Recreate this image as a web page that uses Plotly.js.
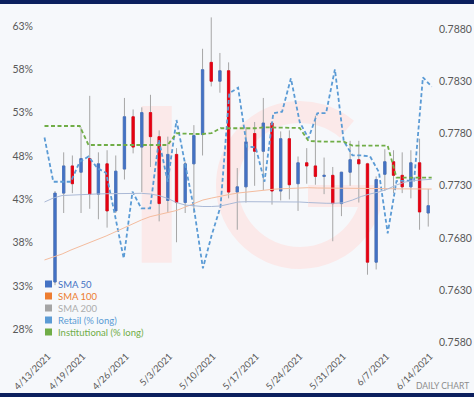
<!DOCTYPE html>
<html>
<head>
<meta charset="utf-8">
<script src="https://cdn.plot.ly/plotly-3.0.1.min.js"></script>
<style>
html,body{margin:0;padding:0;background:#f6f8fb;}
#chart{width:474px;height:397px;}
</style>
</head>
<body>
<div id="chart"></div>
<script>
// ---------------- DATA ----------------
const dates = ['4/13/2021','4/14/2021','4/15/2021','4/16/2021',
  '4/19/2021','4/20/2021','4/21/2021','4/22/2021','4/23/2021',
  '4/26/2021','4/27/2021','4/28/2021','4/29/2021','4/30/2021',
  '5/3/2021','5/4/2021','5/5/2021','5/6/2021','5/7/2021',
  '5/10/2021','5/11/2021','5/12/2021','5/13/2021','5/14/2021',
  '5/17/2021','5/18/2021','5/19/2021','5/20/2021','5/21/2021',
  '5/24/2021','5/25/2021','5/26/2021','5/27/2021','5/28/2021',
  '5/31/2021','6/1/2021','6/2/2021','6/3/2021','6/4/2021',
  '6/7/2021','6/8/2021','6/9/2021','6/10/2021','6/11/2021'];

const openP  = [0.7638,0.7723,0.7749,0.7743,0.7756,0.7722,0.7751,0.7706,0.7746,0.7796,
                0.7767,0.7800,0.7777,0.7716,0.7760,0.7714,0.7751,0.7779,0.7848,0.7830,
                0.7840,0.7724,0.7729,0.7780,0.7763,0.7790,0.7725,0.7775,0.7732,0.7752,
                0.7749,0.7739,0.7740,0.7713,0.7743,0.7755,0.7751,0.7657,0.7741,0.7753,
                0.7740,0.7729,0.7752,0.7704];
const highP  = [0.7725,0.7762,0.7759,0.7786,0.7816,0.7762,0.7764,0.7759,0.7814,0.7803,
                0.7805,0.7817,0.7783,0.7777,0.7766,0.7753,0.7788,0.7861,0.7891,0.7857,
                0.7848,0.7747,0.7786,0.7791,0.7814,0.7791,0.7782,0.7783,0.7758,0.7766,
                0.7797,0.7757,0.7748,0.7743,0.7773,0.7773,0.7752,0.7739,0.7765,0.7764,
                0.7762,0.7764,0.7775,0.7727];
const lowP   = [0.7635,0.7704,0.7723,0.7704,0.7708,0.7698,0.7690,0.7704,0.7736,0.7761,
                0.7724,0.7748,0.7696,0.7705,0.7676,0.7704,0.7704,0.7759,0.7825,0.7819,
                0.7718,0.7688,0.7714,0.7730,0.7726,0.7712,0.7716,0.7717,0.7706,0.7732,
                0.7731,0.7722,0.7677,0.7701,0.7730,0.7714,0.7645,0.7650,0.7725,0.7723,
                0.7723,0.7718,0.7688,0.7691];
const closeP = [0.7723,0.7749,0.7732,0.7756,0.7722,0.7751,0.7706,0.7744,0.7796,0.7767,
                0.7800,0.7777,0.7713,0.7760,0.7714,0.7751,0.7778,0.7841,0.7830,0.7840,
                0.7724,0.7729,0.7772,0.7763,0.7790,0.7725,0.7775,0.7731,0.7752,0.7749,
                0.7739,0.7740,0.7713,0.7743,0.7755,0.7751,0.7657,0.7736,0.7753,0.7740,
                0.7729,0.7752,0.7705,0.7711];

// sentiment / moving-average series (45 points each)
const retailLong = [50.13,45.03,45.03,45.03,47.34,47.94,46.61,46.04,41.19,36.19,
                    43.88,41.96,41.96,49.85,45.03,52.15,46.96,41.85,35.04,38.88,
                    42.15,55.23,55.88,49.07,49.00,45.03,52.93,53.11,56.96,51.92,
                    50.04,52.93,52.96,58.00,49.73,48.06,48.06,47.94,46.15,39.08,
                    45.11,45.17,45.17,57.08,56.00];
const instLong   = [51.46,51.46,51.46,51.46,51.46,49.27,49.27,49.27,49.27,49.27,
                    49.27,49.27,49.27,49.27,49.27,50.62,50.54,50.54,50.54,50.65,
                    51.20,51.20,51.20,51.20,51.20,51.31,51.31,51.31,51.31,51.23,
                    49.73,49.65,49.65,49.65,49.65,49.19,49.19,49.19,49.19,49.19,
                    45.50,45.50,45.50,45.50,45.50];
const sma100 = [0.76591,0.76619,0.76648,0.76686,0.76720,0.76753,0.76782,0.76820,0.76858,0.76897,
                0.76935,0.76973,0.77005,0.77026,0.77045,0.77064,0.77097,0.77131,0.77164,0.77183,
                0.77202,0.77217,0.77231,0.77241,0.77250,0.77260,0.77267,0.77272,0.77277,0.77281,
                0.77282,0.77279,0.77279,0.77276,0.77276,0.77276,0.77276,0.77276,0.77275,0.77273,
                0.77271,0.77269,0.77269,0.77269,0.77269];
const sma200 = [0.77145,0.77183,0.77207,0.77212,0.77217,0.77222,0.77222,0.77224,0.77226,0.77228,
                0.77228,0.77228,0.77222,0.77207,0.77179,0.77140,0.77116,0.77107,0.77102,0.77102,
                0.77107,0.77126,0.77145,0.77148,0.77148,0.77148,0.77148,0.77148,0.77148,0.77145,
                0.77140,0.77133,0.77133,0.77133,0.77138,0.77164,0.77198,0.77222,0.77241,0.77269,
                0.77308,0.77336,0.77351,0.77357,0.77362];

const tickLabels = ['4/13/2021','4/19/2021','4/26/2021','5/3/2021','5/10/2021',
                    '5/17/2021','5/24/2021','5/31/2021','6/7/2021','6/14/2021'];
const pctTicks   = [28,33,38,43,48,53,58,63];
const priceTicks = [0.7580,0.7630,0.7680,0.7730,0.7780,0.7830,0.7880];

const legendNames  = ['SMA 50','SMA 100','SMA 200','Retail (% long)','Institutional (% long)'];

// ---------------- STYLE ----------------
const FONT = 'Lato, "Open Sans", sans-serif';
const C_UP = '#4472C4', C_DN = '#E60012', C_WICK = '#A6A6A6';
const legendMarker = ['#4472C4','#ED7D31','#A5A5A5','#5B9BD5','#70AD47'];
const legendText   = ['#4472C4','#ED7D31','#ADADAD','#5B9BD5','#70AD47'];

const W = 474, H = 397;
const M = {l:34, r:36, t:12, b:49};
const PW = W - M.l - M.r, PH = H - M.t - M.b;
const px = x => (x - M.l) / PW;          // pixel -> paper
const py = y => (H - M.b - y) / PH;

// trading-day index of a M/D/YYYY label, counted from the first date
function tradingIndex(label){
  const p = s => { const a = s.split('/').map(Number); return new Date(a[2], a[0]-1, a[1]); };
  const d0 = p(dates[0]), d1 = p(label);
  let n = 0; const d = new Date(d0);
  while (d < d1){ d.setDate(d.getDate()+1); const w = d.getDay(); if (w !== 0 && w !== 6) n++; }
  return n;
}
const lineIdx = retailLong.map((_, i) => i);
const candleIdx = dates.map((_, i) => i);
const bodyHi = openP.map((o, i) => Math.max(o, closeP[i]));
const bodyLo = openP.map((o, i) => Math.min(o, closeP[i]));

const traces = [
  { type:'candlestick', x:candleIdx, open:openP, high:highP, low:lowP, close:closeP,
    xaxis:'x', yaxis:'y2', hoverinfo:'skip',
    increasing:{line:{color:C_WICK, width:1}, fillcolor:C_WICK},
    decreasing:{line:{color:C_WICK, width:1}, fillcolor:C_WICK} },
  { type:'candlestick', x:candleIdx, open:openP, high:bodyHi, low:bodyLo, close:closeP,
    xaxis:'x', yaxis:'y2', hoverinfo:'skip',
    increasing:{line:{color:C_UP, width:0.8}, fillcolor:C_UP},
    decreasing:{line:{color:C_DN, width:0.8}, fillcolor:C_DN} },
  { type:'scatter', mode:'lines', x:lineIdx, y:retailLong, xaxis:'x2', yaxis:'y',
    name:legendNames[3], line:{color:'#5B9BD5', width:1.8, dash:'4px,2.5px'}, hoverinfo:'skip' },
  { type:'scatter', mode:'lines', x:lineIdx, y:instLong, xaxis:'x2', yaxis:'y',
    name:legendNames[4], line:{color:'#70AD47', width:1.8, dash:'4px,2.5px'}, hoverinfo:'skip' },
  { type:'scatter', mode:'lines', x:lineIdx, y:sma100, xaxis:'x2', yaxis:'y2',
    name:legendNames[1], line:{color:'#F4BC9E', width:1}, hoverinfo:'skip' },
  { type:'scatter', mode:'lines', x:lineIdx, y:sma200, xaxis:'x2', yaxis:'y2',
    name:legendNames[2], line:{color:'#AAB9D6', width:1}, hoverinfo:'skip' }
];

// axis ranges chosen so the scales sit where the reference puts them
const xr  = [(M.l - 55)/8.68, (W - M.r - 55)/8.68];
const x2r = [(M.l - 44.5)/8.8, (W - M.r - 44.5)/8.8];
const pctAt = y => 63 - (y - 26) / 8.666;
const priceAt = y => 0.758 + (342.7 - y) * 0.005 / 52.3;

const axisFont = {family:FONT, size:10.5, color:'#595959'};
const annotations = legendNames.map((n, i) => ({
  xref:'paper', yref:'paper', x:px(56), y:py(284 + 12*i), xanchor:'left', yanchor:'middle',
  text:n, showarrow:false, font:{family:FONT, size:9.5, color:legendText[i]}
}));
annotations.push({xref:'paper', yref:'paper', x:px(471), y:py(386), xanchor:'right', yanchor:'middle',
  text:'DAILY CHART', showarrow:false, font:{family:FONT, size:8.5, color:'#8C8C8C'}});

const shapes = legendNames.map((n, i) => ({
  type:'rect', xref:'paper', yref:'paper', x0:px(45), x1:px(52),
  y0:py(284 + 12*i + 3.5), y1:py(284 + 12*i - 3.5), line:{width:0}, fillcolor:legendMarker[i]
}));
shapes.push({type:'rect', xref:'paper', yref:'paper', x0:px(0), x1:px(W), y0:py(4), y1:py(-1),
  line:{width:0}, fillcolor:'#0B1F5E', layer:'above'});
shapes.push({type:'rect', xref:'paper', yref:'paper', x0:px(0), x1:px(W), y0:py(H+1), y1:py(393),
  line:{width:0}, fillcolor:'#0B1F5E', layer:'above'});

// faint IG watermark
const WM = '#FBE9E9';
const svg = '<svg xmlns="http://www.w3.org/2000/svg" width="250" height="190" viewBox="0 0 250 190">' +
  '<g fill="' + WM + '" stroke="none">' +
  '<rect x="11.7" y="16" width="30" height="156.7"/>' +
  '<rect x="178" y="95" width="74" height="22"/></g>' +
  '<path d="M 216.9 39.1 A 73 73 0 1 0 240.5 113.9" fill="none" stroke="' + WM + '" stroke-width="22"/>' +
  '</svg>';
const images = [{source:'data:image/svg+xml;charset=utf-8,' + encodeURIComponent(svg),
  xref:'paper', yref:'paper', x:px(130), y:py(90), sizex:250/PW, sizey:190/PH,
  xanchor:'left', yanchor:'top', sizing:'stretch', layer:'below', opacity:1}];

const layout = {
  width:W, height:H, margin:{l:M.l, r:M.r, t:M.t, b:M.b, pad:0},
  paper_bgcolor:'#F6F8FB', plot_bgcolor:'rgba(0,0,0,0)',
  showlegend:false, boxgap:0.62, boxmode:'overlay',
  font:{family:FONT},
  xaxis:{range:xr, tickmode:'array',
         tickvals:tickLabels.map(t => tradingIndex(t) - 0.8), ticktext:tickLabels,
         tickangle:-45, tickfont:{family:FONT, size:9.5, color:'#595959'},
         showgrid:false, zeroline:false, showline:false, ticks:'',
         rangeslider:{visible:false}, fixedrange:true},
  xaxis2:{overlaying:'x', range:x2r, visible:false, fixedrange:true},
  yaxis:{range:[pctAt(H - M.b), pctAt(M.t)], tickmode:'array', tickvals:pctTicks,
         ticktext:pctTicks.map(v => v + '%'), tickfont:axisFont,
         showgrid:false, zeroline:false, showline:false, ticks:'', fixedrange:true},
  yaxis2:{overlaying:'y', side:'right', range:[priceAt(H - M.b), priceAt(M.t)],
          tickmode:'array', tickvals:priceTicks, ticktext:priceTicks.map(v => v.toFixed(4)),
          tickfont:axisFont, showgrid:false, zeroline:false, showline:false, ticks:'', fixedrange:true},
  annotations:annotations, shapes:shapes, images:images
};

Plotly.newPlot('chart', traces, layout, {staticPlot:true, displayModeBar:false});
</script>
</body>
</html>
